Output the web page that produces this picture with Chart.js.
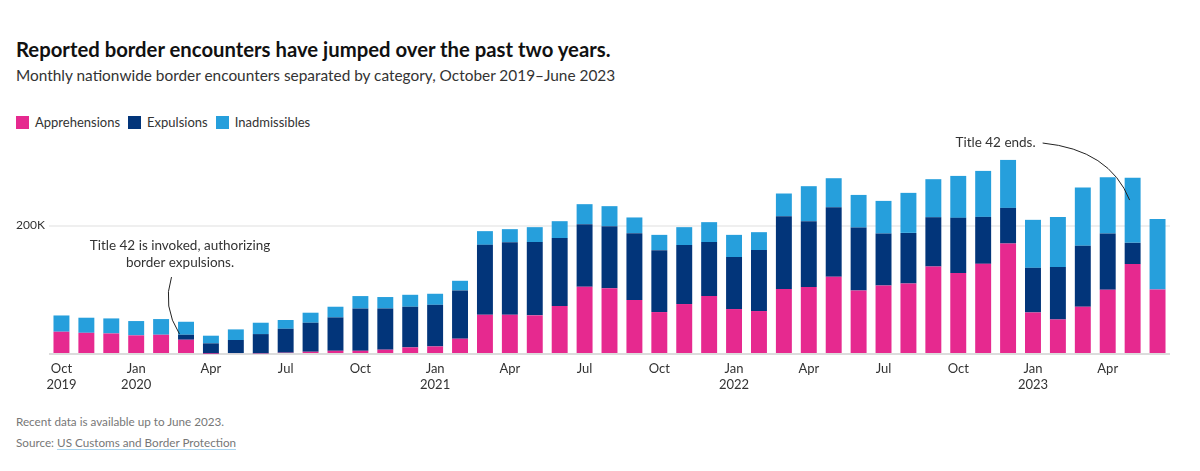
<!DOCTYPE html>
<html>
<head>
<meta charset="utf-8">
<script src="https://cdn.jsdelivr.net/npm/chart.js@4"></script>
<style>
  html, body { margin: 0; padding: 0; background: #fff; }
  body { width: 1200px; height: 471px; position: relative; overflow: hidden; font-family: Lato, sans-serif; color: #222; }
  .title { position: absolute; left: 16px; top: 37px; font-size: 20.3px; font-weight: 700; color: #111; }
  .subtitle { position: absolute; left: 16px; top: 66px; font-size: 15.4px; color: #333; }
  .legend { position: absolute; left: 16px; top: 114px; font-size: 13px; color: #333; display: flex; align-items: center; }
  .legend span.box { display: inline-block; width: 13px; height: 13px; margin-right: 6px; }
  .legend span.item { margin-right: 8px; display: flex; align-items: center; }
  .chartWrap { position: absolute; left: 0; top: 127px; width: 1200px; height: 273px; }
  .note { position: absolute; left: 16px; font-size: 11.7px; color: #777; }
  .note a { color: #777; text-decoration: none; border-bottom: 1px solid #a9d6f0; }
</style>
</head>
<body>
<div class="title">Reported border encounters have jumped over the past two years.</div>
<div class="subtitle">Monthly nationwide border encounters separated by category, October 2019–June 2023</div>
<div class="legend" id="legend"></div>
<div class="chartWrap"><canvas id="encountersChart"></canvas></div>
<div class="note" style="top:414px">Recent data is available up to June 2023.</div>
<div class="note" style="top:435px">Source: <a>US Customs and Border Protection</a></div>

<script>
// Monthly categories, Oct 2019 - Jun 2023
const months = [
    'Oct 2019', 'Nov 2019', 'Dec 2019', 'Jan 2020', 'Feb 2020', 'Mar 2020', 'Apr 2020', 'May 2020', 'Jun 2020',
    'Jul 2020', 'Aug 2020', 'Sep 2020', 'Oct 2020', 'Nov 2020', 'Dec 2020', 'Jan 2021', 'Feb 2021', 'Mar 2021',
    'Apr 2021', 'May 2021', 'Jun 2021', 'Jul 2021', 'Aug 2021', 'Sep 2021', 'Oct 2021', 'Nov 2021', 'Dec 2021',
    'Jan 2022', 'Feb 2022', 'Mar 2022', 'Apr 2022', 'May 2022', 'Jun 2022', 'Jul 2022', 'Aug 2022', 'Sep 2022',
    'Oct 2022', 'Nov 2022', 'Dec 2022', 'Jan 2023', 'Feb 2023', 'Mar 2023', 'Apr 2023', 'May 2023', 'Jun 2023'
];

const apprehensions = [
    34700, 33000, 32000, 29000, 30000, 22200, 600, 1500, 1000,
    2000, 3500, 5000, 5000, 6700, 10300, 11800, 23800, 61100,
    61100, 60200, 74700, 104700, 102200, 84000, 65300, 77800, 90200,
    70000, 66900, 101100, 104200, 120200, 98900, 106700, 109800, 136200,
    126000, 140400, 172000, 64700, 53800, 73600, 100000, 140000, 100500
];

const expulsions = [
    0, 0, 0, 0, 0, 7800, 16000, 20300, 30000,
    37300, 45200, 52000, 65800, 64200, 63300, 64800, 75100, 108900,
    113000, 114000, 105800, 97500, 96900, 104200, 96400, 91800, 84000,
    80900, 94900, 113500, 102600, 108400, 98000, 80900, 78800, 76800,
    86000, 73100, 55500, 69500, 81500, 94900, 87600, 33100, 0
];

const inadmissibles = [
    25300, 23500, 23400, 22300, 24400, 20200, 11900, 16500, 17700,
    13600, 15600, 16600, 19400, 17800, 18600, 17200, 15100, 21300,
    20300, 23300, 26300, 31100, 31100, 24400, 23800, 27900, 31100,
    34600, 27900, 35300, 54500, 45100, 50800, 50800, 62300, 59200,
    65300, 71600, 74700, 74700, 78200, 90600, 87700, 101500, 109900
];

const yTicks = [0, 200000];

const seriesNames = ['Apprehensions', 'Expulsions', 'Inadmissibles'];
const seriesColors = ['#e6298f', '#02357a', '#269fdc'];

// Annotations, anchored to a month index and a value on the y scale
const annotations = [
    {
        lines: ['Title 42 is invoked, authorizing', 'border expulsions.'],
        month: 5, dx: -6, yValues: [169500, 141500], align: 'center',
        curve: { from: [-14.5, 119800], ctrl: [-24, 74000], to: [-6.5, 31000] }
    },
    {
        lines: ['Title 42 ends.'],
        month: 43, dx: -97, yValues: [328500], align: 'right',
        curve: { from: [-90, 328500], ctrl: [-23, 318000], to: [-3, 239700] }
    }
];

// Build legend
function buildLegend() {
    const legend = document.getElementById('legend');
    seriesNames.forEach((name, i) => {
        const item = document.createElement('span');
        item.className = 'item';
        item.innerHTML = `<span class="box" style="background:${seriesColors[i]}"></span>${name}`;
        legend.appendChild(item);
    });
}

// Tick label for a month: quarters only, year under Jan and the first label
function tickLabel(index) {
    const [mon, year] = months[index].split(' ');
    if (mon === 'Jan' || index === 0) return [mon, year];
    if (mon === 'Apr' || mon === 'Jul' || mon === 'Oct') return mon;
    return '';
}

const annotationPlugin = {
    id: 'annotations',
    afterDatasetsDraw(chart) {
        const ctx = chart.ctx;
        const x = chart.scales.x;
        const y = chart.scales.y;
        ctx.save();
        annotations.forEach(a => {
            const bx = x.getPixelForValue(a.month);
            ctx.font = '13.5px Lato, sans-serif';
            ctx.fillStyle = '#333';
            ctx.textAlign = a.align;
            ctx.textBaseline = 'middle';
            a.lines.forEach((line, i) => {
                ctx.fillText(line, bx + a.dx, y.getPixelForValue(a.yValues[i]));
            });
            const c = a.curve;
            ctx.beginPath();
            ctx.strokeStyle = '#222';
            ctx.lineWidth = 1;
            ctx.moveTo(bx + c.from[0], y.getPixelForValue(c.from[1]));
            ctx.quadraticCurveTo(bx + c.ctrl[0], y.getPixelForValue(c.ctrl[1]),
                                 bx + c.to[0], y.getPixelForValue(c.to[1]));
            ctx.stroke();
        });
        ctx.restore();
    }
};

function renderChart() {
    const ctx = document.getElementById('encountersChart').getContext('2d');
    const values = [apprehensions, expulsions, inadmissibles];

    new Chart(ctx, {
        type: 'bar',
        data: {
            labels: months,
            datasets: seriesNames.map((name, i) => ({
                label: name,
                data: values[i],
                backgroundColor: seriesColors[i],
                borderWidth: 0,
                barPercentage: 0.64,
                categoryPercentage: 1
            }))
        },
        options: {
            responsive: true,
            maintainAspectRatio: false,
            animation: false,
            layout: { padding: { left: 16, right: 30, top: 8, bottom: 0 } },
            plugins: {
                legend: { display: false },
                tooltip: { enabled: false }
            },
            scales: {
                x: {
                    stacked: true,
                    grid: { display: false, drawTicks: false },
                    border: { display: false },
                    afterFit: scale => { scale.height = 46; },
                    ticks: {
                        autoSkip: false,
                        maxRotation: 0,
                        padding: 7,
                        color: '#333',
                        font: { family: 'Lato, sans-serif', size: 13 },
                        callback: (value, index) => tickLabel(index)
                    }
                },
                y: {
                    stacked: true,
                    min: 0,
                    max: 341000,
                    afterFit: scale => { scale.width = 33; },
                    afterBuildTicks: scale => { scale.ticks = yTicks.map(v => ({ value: v })); },
                    border: { display: false },
                    grid: {
                        drawTicks: false,
                        color: c => c.tick.value === 0 ? '#dcdcdc' : '#efefef',
                        lineWidth: 2
                    },
                    ticks: {
                        crossAlign: 'far',
                        padding: 0,
                        color: '#333',
                        font: { family: 'Lato, sans-serif', size: 12 },
                        callback: v => v === 0 ? '' : (v / 1000) + 'K'
                    }
                }
            }
        },
        plugins: [annotationPlugin]
    });
}

document.addEventListener('DOMContentLoaded', function() {
    buildLegend();
    renderChart();
});
</script>
</body>
</html>
